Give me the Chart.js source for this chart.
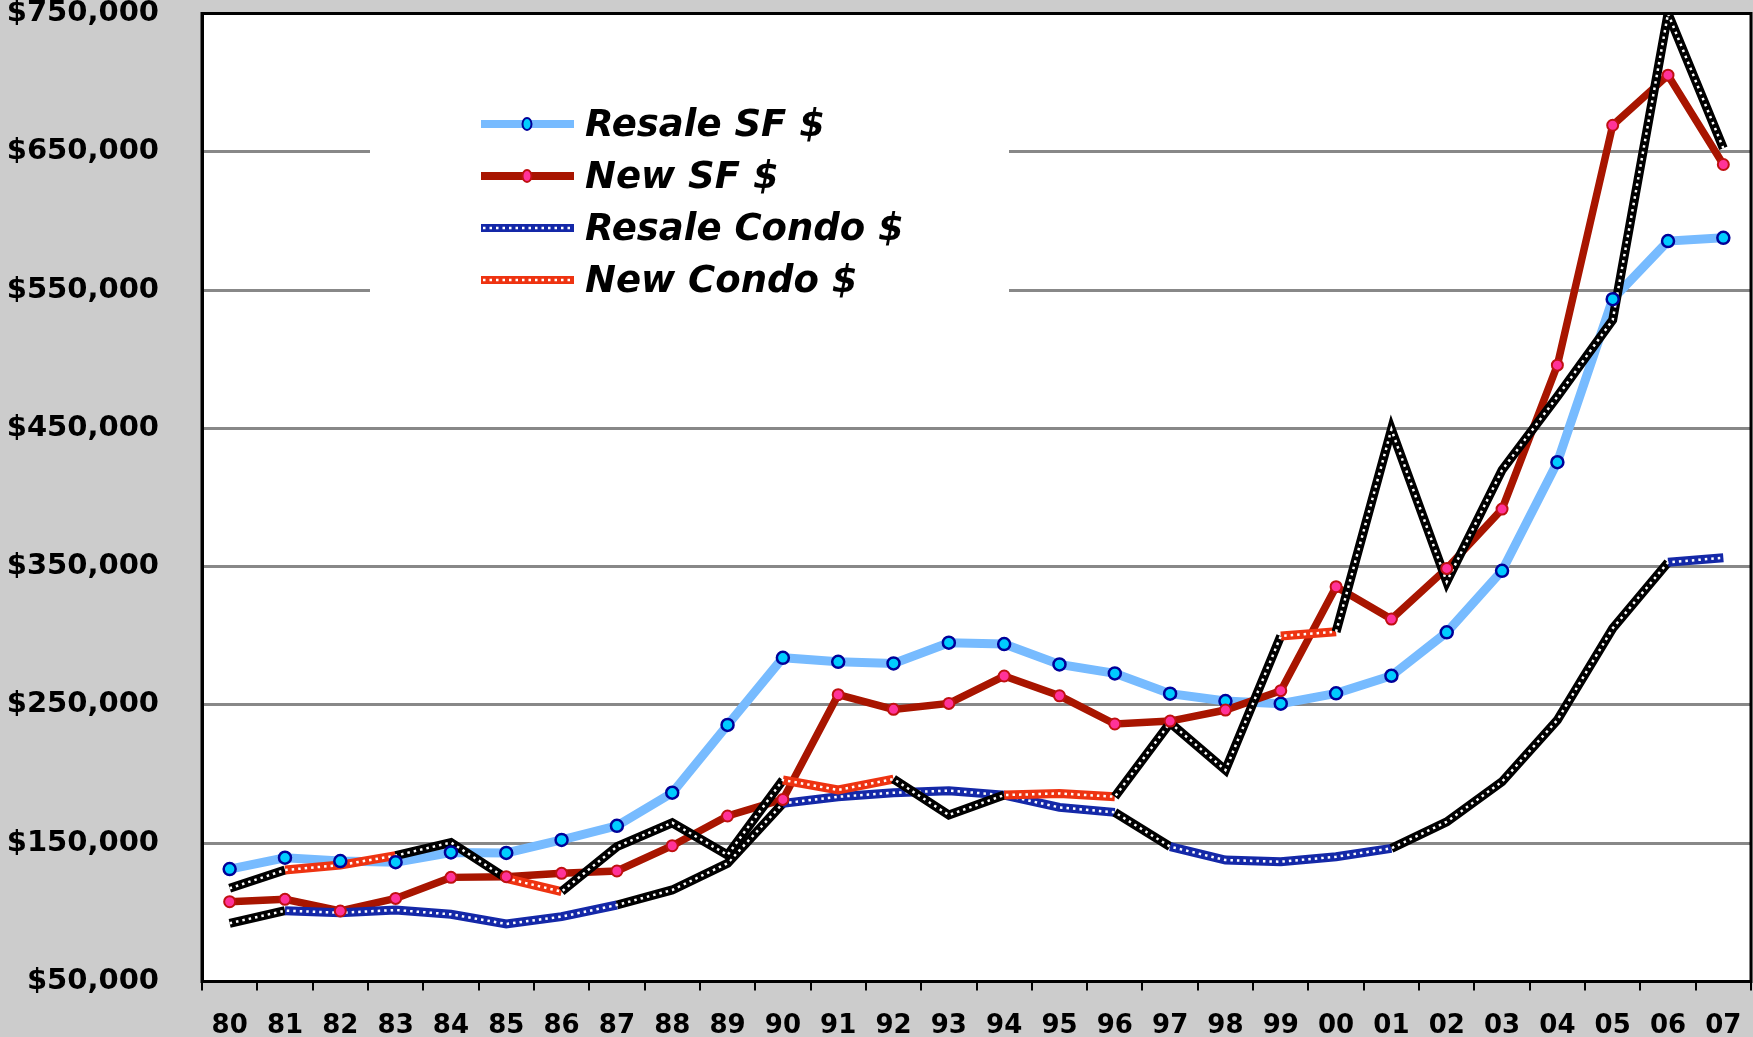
<!DOCTYPE html>
<html>
<head>
<meta charset="utf-8">
<script src="https://cdn.jsdelivr.net/npm/chart.js"></script>
<style>
  html, body { margin: 0; padding: 0; background: #cccccc; }
  #wrap { width: 1753px; height: 1037px; }
</style>
</head>
<body>
<div id="wrap"><canvas id="myChart" width="1753" height="1037"></canvas></div>
<script>
const years = ['80', '81', '82', '83', '84', '85', '86', '87', '88', '89', '90', '91', '92', '93',
  '94', '95', '96', '97', '98', '99', '00', '01', '02', '03', '04', '05', '06', '07']

const resaleSF = [131300, 139500, 137100, 136300, 143300, 143000, 152400, 162600, 186500, 235500,
  284100, 281200, 280000, 295000, 294000, 279300, 272800, 258100, 252800, 250900,
  258400, 271100, 302500, 347000, 425500, 543400, 585400, 587800]

const newSF = [107700, 109400, 101000, 110100, 125300, 125800, 128200, 129900, 148200, 169700,
  181700, 257400, 246800, 251100, 270900, 256600, 236200, 238300, 246300, 260300,
  335500, 312100, 348700, 391600, 495700, 669200, 705400, 640800]

const resaleCondo = [92100, 101200, 99700, 101700, 98600, 91600, 96900, 105300, 116200, 135500,
  178800, 183600, 186500, 188000, 184800, 175900, 172300, 147500, 137800, 136600,
  140200, 146300, 165500, 194500, 239100, 305400, 353100, 356400]

const newCondo = [117400, 130600, 134200, 141000, 150500, 124600, 115000, 147500, 164800, 141500,
  195700, 188500, 196400, 170400, 184800, 186000, 183600, 237100, 202900, 299800,
  302900, 449200, 339100, 419800, 473000, 528400, 750000, 652500]

// segments (by starting year index) that are drawn black in the original
const resaleCondoBlack = [0, 7, 8, 9, 16, 21, 22, 23, 24, 25]
const newCondoBlack = [0, 3, 4, 6, 7, 8, 9, 12, 13, 16, 17, 18, 20, 21, 22, 23, 24, 25, 26]

const yTicks = [50000, 150000, 250000, 350000, 450000, 550000, 650000, 750000]

const C = {
  resaleSF: '#77bbff', resaleSFDot: '#00ccff', resaleSFEdge: '#000099',
  newSF: '#a81500', newSFDot: '#ff3399', newSFEdge: '#c01010',
  resaleCondo: '#1428a8', newCondo: '#ee3311'
}

const legendItems = [
  { label: 'Resale SF $', color: C.resaleSF, dot: C.resaleSFDot, edge: C.resaleSFEdge },
  { label: 'New SF $', color: C.newSF, dot: C.newSFDot, edge: C.newSFEdge },
  { label: 'Resale Condo $', color: C.resaleCondo, dots: true },
  { label: 'New Condo $', color: C.newCondo, dots: true }
]

const segColor = (black, color) => ctx => black.includes(ctx.p0DataIndex) ? '#000000' : color

const dotted = data => ({
  data: data, borderColor: '#ffffff', borderWidth: 2.5, borderDash: [2.5, 4],
  pointRadius: 0, fill: false, tension: 0
})

const bgPlugin = {
  id: 'bg',
  beforeDraw(chart) {
    const c = chart.ctx, a = chart.chartArea
    c.save()
    c.fillStyle = '#cccccc'
    c.fillRect(0, 0, chart.width, chart.height)
    c.fillStyle = '#ffffff'
    c.fillRect(a.left, a.top, a.right - a.left, a.bottom - a.top)
    c.restore()
  },
  afterDraw(chart) {
    const c = chart.ctx, a = chart.chartArea
    c.save()
    // legend box hides the grid lines behind it
    c.fillStyle = '#ffffff'
    c.fillRect(370, 80, 639, 240)
    legendItems.forEach((it, i) => {
      const y = 124 + i * 52
      c.lineCap = 'butt'
      c.strokeStyle = it.color
      c.lineWidth = 8
      c.beginPath(); c.moveTo(481, y); c.lineTo(574, y); c.stroke()
      if (it.dots) {
        c.strokeStyle = '#ffffff'
        c.lineWidth = 2.5
        c.setLineDash([2.5, 4])
        c.beginPath(); c.moveTo(483, y); c.lineTo(574, y); c.stroke()
        c.setLineDash([])
      } else {
        c.fillStyle = it.dot
        c.strokeStyle = it.edge
        c.lineWidth = 2
        c.beginPath(); c.ellipse(527, y, 4.5, 6, 0, 0, Math.PI * 2); c.fill(); c.stroke()
      }
      c.fillStyle = '#000000'
      c.font = 'italic bold 37px "DejaVu Sans"'
      c.textBaseline = 'middle'
      c.textAlign = 'left'
      c.fillText(it.label, 585, y + 2)
    })
    // plot frame
    c.strokeStyle = '#000000'
    c.lineWidth = 3
    c.strokeRect(a.left, a.top, a.right - a.left, a.bottom - a.top)
    c.restore()
  }
}

const data = {
  labels: years,
  datasets: [
    { data: resaleSF, borderColor: C.resaleSF, borderWidth: 9, pointRadius: 0, order: 8 },
    { data: newSF, borderColor: C.newSF, borderWidth: 7.5, pointRadius: 0, order: 7 },
    { data: resaleCondo, borderWidth: 9, pointRadius: 0, order: 6,
      segment: { borderColor: segColor(resaleCondoBlack, C.resaleCondo) } },
    Object.assign(dotted(resaleCondo), { order: 5 }),
    { data: newCondo, borderWidth: 9, pointRadius: 0, order: 4,
      segment: { borderColor: segColor(newCondoBlack, C.newCondo) } },
    Object.assign(dotted(newCondo), { order: 3 }),
    { data: resaleSF, showLine: false, pointRadius: 6, pointBorderWidth: 2.5,
      pointBackgroundColor: C.resaleSFDot, pointBorderColor: C.resaleSFEdge, order: 2 },
    { data: newSF, showLine: false, pointRadius: 5.5, pointBorderWidth: 2,
      pointBackgroundColor: C.newSFDot, pointBorderColor: C.newSFEdge, order: 1 }
  ]
}

const config = {
  type: 'line',
  data: data,
  plugins: [bgPlugin],
  options: {
    responsive: false,
    animation: false,
    layout: { padding: { top: 0, right: 2, bottom: 0, left: 0 }, autoPadding: false },
    plugins: { legend: { display: false }, tooltip: { enabled: false }, title: { display: false } },
    elements: { line: { tension: 0, borderJoinStyle: 'miter', borderCapStyle: 'butt' } },
    scales: {
      x: {
        offset: true,
        grid: { offset: true, drawOnChartArea: false, drawTicks: true, tickLength: 9,
          tickColor: '#000000', lineWidth: 2 },
        border: { display: true, color: '#000000', width: 3 },
        ticks: { color: '#000000', padding: 20, maxRotation: 0, autoSkip: false,
          font: { family: 'DejaVu Sans', size: 26, weight: 'bold', lineHeight: 1.2 } },
        afterFit: s => { s.height = 55.5; s.paddingLeft = 0; s.paddingRight = 0 }
      },
      y: {
        min: 50000, max: 750000,
        afterBuildTicks: s => { s.ticks = yTicks.map(v => ({ value: v })) },
        grid: { color: '#888888', lineWidth: 3, drawTicks: false },
        border: { display: true, color: '#000000', width: 3 },
        ticks: { color: '#000000', padding: 43,
          font: { family: 'DejaVu Sans', size: 29, weight: 'bold', lineHeight: 0.9 },
          callback: v => '$' + v.toLocaleString('en-US') },
        afterFit: s => { s.width = 202; s.paddingTop = 13.5; s.paddingBottom = 0 }
      }
    }
  }
}

const myChart = new Chart(document.getElementById('myChart'), config)
</script>
</body>
</html>
